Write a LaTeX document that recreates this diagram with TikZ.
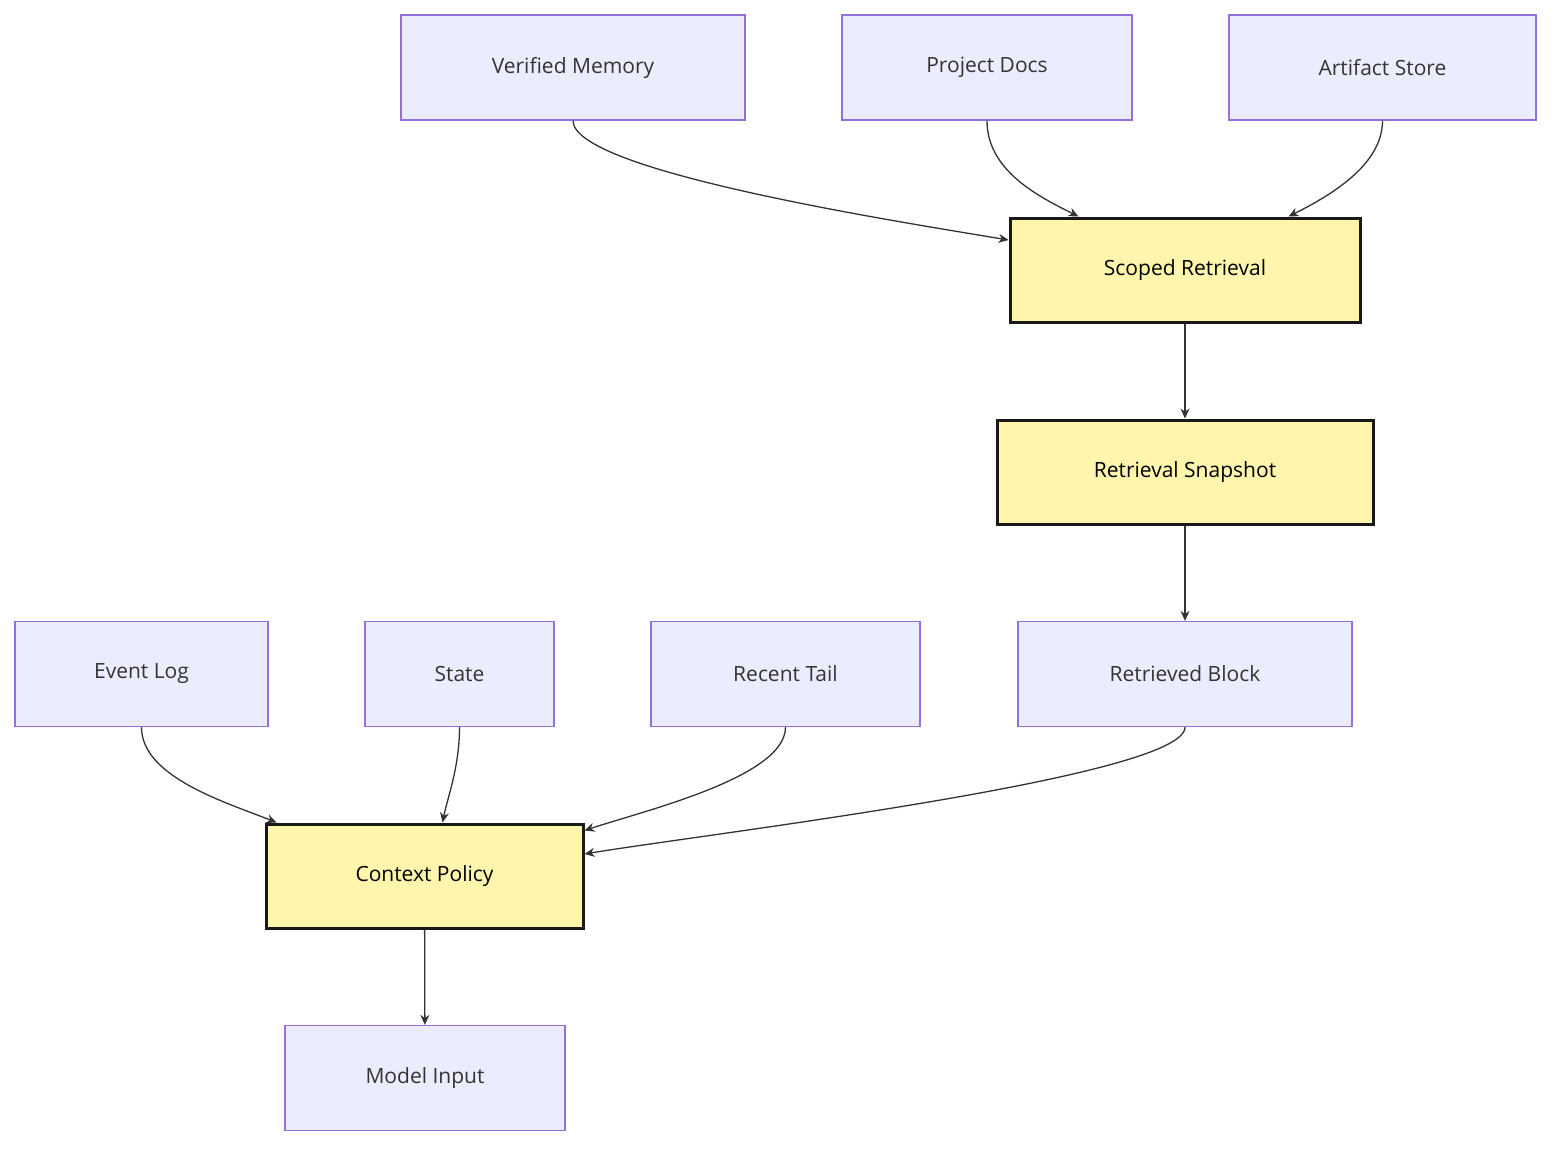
\documentclass[tikz,border=0pt]{standalone}
\usepackage{fontspec}
\setmainfont{Open Sans}
\usetikzlibrary{calc,arrows.meta}
\definecolor{lavfill}{HTML}{ECECFF}
\definecolor{lavdraw}{HTML}{9370DB}
\definecolor{yelfill}{HTML}{FFF5AD}
\definecolor{edge}{HTML}{333333}
\tikzset{
 box/.style={draw=lavdraw,fill=lavfill,line width=1.3pt,minimum height=105pt,inner sep=0pt,font=\fontsize{21}{24}\selectfont,text=black!80},
 hbox/.style={draw=black!90,fill=yelfill,line width=3pt,minimum height=104pt,inner sep=0pt,font=\fontsize{21}{24}\selectfont,text=black},
 conn/.style={draw=edge,line width=1.3pt,-{Stealth[length=10pt,width=9pt]}}
}
\begin{document}
\begin{tikzpicture}[x=1pt,y=-1pt]
\useasboundingbox (0,0) rectangle (1568,1160);
\node[box,minimum width=344pt] (vm) at (573,67.5) {Verified Memory};
\node[box,minimum width=290pt] (pd) at (987,67.5) {Project Docs};
\node[box,minimum width=307pt] (as) at (1382.5,67.5) {Artifact Store};
\node[hbox,minimum width=350pt] (sr) at (1185,270) {Scoped Retrieval};
\node[hbox,minimum width=376pt] (rs) at (1185,472) {Retrieval Snapshot};
\node[box,minimum width=253pt] (el) at (141.5,674) {Event Log};
\node[box,minimum width=189pt] (st) at (459.5,674) {State};
\node[box,minimum width=269pt] (rt) at (785.5,674) {Recent Tail};
\node[box,minimum width=334pt] (rb) at (1185,674) {Retrieved Block};
\node[hbox,minimum width=317pt] (cp) at (424.5,876) {Context Policy};
\node[box,minimum width=280pt] (mi) at (425,1078) {Model Input};

\draw[conn] (vm.south) .. controls +(0,50) and +(-120,-20) .. ($(sr.west)+(0,-30)$);
\draw[conn] (pd.south) .. controls +(0,50) and +(-40,-20) .. ($(sr.north west)+(70,0)$);
\draw[conn] (as.south) .. controls +(0,45) and +(40,-20) .. ($(sr.north west)+(280,0)$);
\draw[conn] (sr) -- (rs);
\draw[conn] (rs) -- (rb);
\draw[conn] (el.south) .. controls +(0,50) and +(-50,-20) .. ($(cp.north west)+(12,0)$);
\draw[conn] (st.south) .. controls +(0,40) and +(5,-25) .. ($(cp.north west)+(178,0)$);
\draw[conn] (rt.south) .. controls +(0,50) and +(60,-20) .. ($(cp.north east)+(0,8)$);
\draw[conn] (rb.south) .. controls +(0,50) and +(120,-20) .. ($(cp.east)+(0,-22)$);
\draw[conn] (cp) -- (mi);
\end{tikzpicture}
\end{document}
